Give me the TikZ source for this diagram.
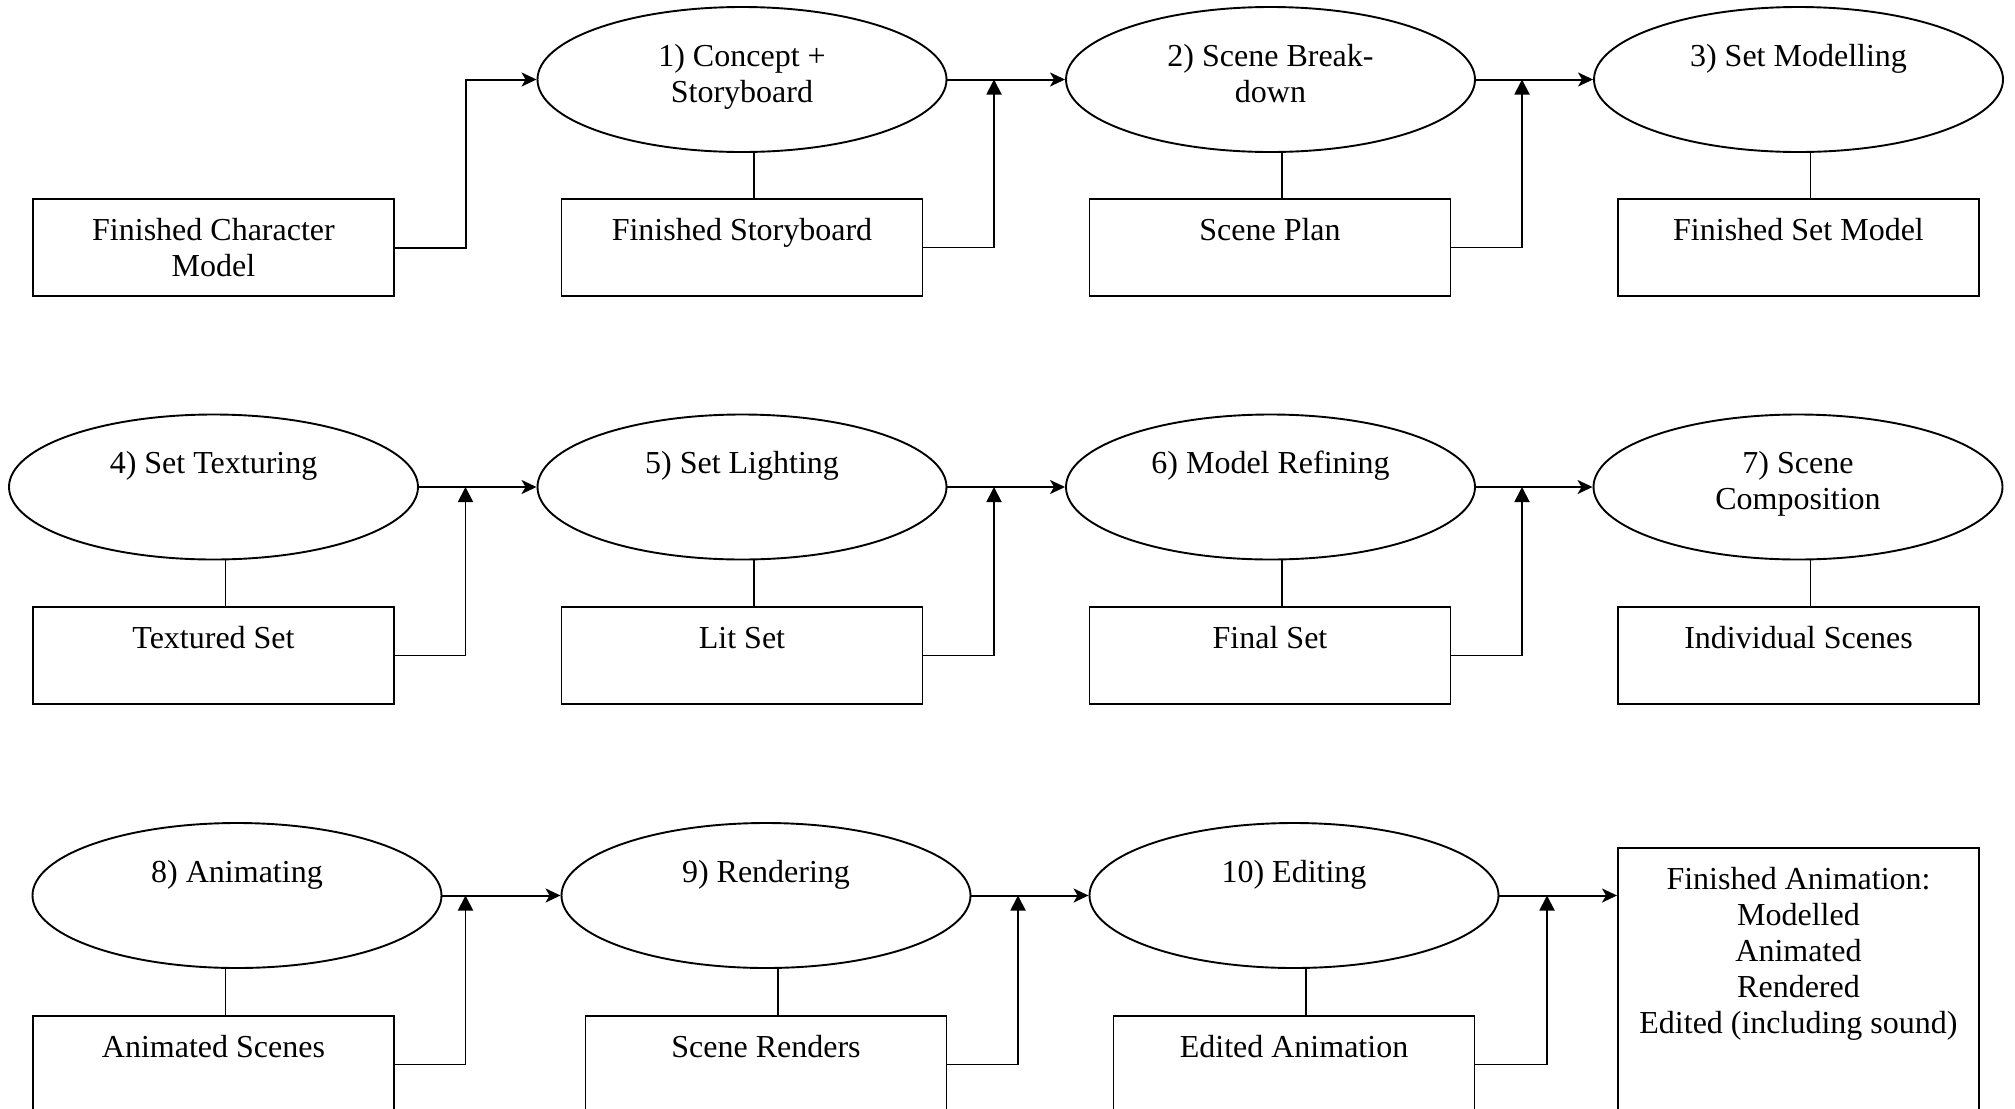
\documentclass[tikz,border=0pt]{standalone}
\usepackage{fontspec}
\setmainfont{Liberation Serif}
\usetikzlibrary{shapes.geometric,arrows.meta,calc}
\begin{document}
\begin{tikzpicture}[x=0.5pt,y=-0.5pt,
  outl/.style={draw, line width=0.95pt, inner sep=0pt},
  proc/.style={outl, ellipse, minimum width=204.5pt, minimum height=72.5pt},
  prod/.style={outl, rectangle, minimum width=180.5pt, minimum height=48.5pt},
  txt/.style={inner sep=0pt, align=center, anchor=north, font=\fontsize{16pt}{18pt}\selectfont},
  flow/.style={line width=1pt, -{Stealth[length=7.5pt,width=7pt,inset=2pt]}},
  feed/.style={line width=0.95pt, -{Triangle[length=7.5pt,width=7.5pt]}},
  link/.style={line width=0.8pt}]
\useasboundingbox (0,0) rectangle (2015,1109);
\clip (0,0) rectangle (2015,1109);

% ---------- row 1
\node[prod] (b0) at (213.5,247.5) {};
\node[proc] (e1) at (742,79.5) {};
\node[prod] (b1) at (742,247.5) {};
\node[proc] (e2) at (1270.5,79.5) {};
\node[prod] (b2) at (1270,247.5) {};
\node[proc] (e3) at (1798.5,79.5) {};
\node[prod] (b3) at (1798.5,247.5) {};

% ---------- row 2
\node[proc] (e4) at (213.5,487) {};
\node[prod] (b4) at (213.5,655.5) {};
\node[proc] (e5) at (742,487) {};
\node[prod] (b5) at (742,655.5) {};
\node[proc] (e6) at (1270.5,487) {};
\node[prod] (b6) at (1270,655.5) {};
\node[proc] (e7) at (1798,487) {};
\node[prod] (b7) at (1798.5,655.5) {};

% ---------- row 3
\node[proc] (e8) at (237,895.5) {};
\node[prod] (b8) at (213.5,1064.5) {};
\node[proc] (e9) at (766,895.5) {};
\node[prod] (b9) at (766,1064.5) {};
\node[proc] (e10) at (1294,895.5) {};
\node[prod] (b10) at (1294,1064.5) {};
\node[outl, rectangle, minimum width=180.5pt, minimum height=150pt, anchor=north] (fa) at (1798.5,847) {};

% ---------- texts
\node[txt] (t0) at ($(b0.north)+(0,16.8)$) {\strut Finished Character\\Model};
\node[txt] (te1) at ($(e1.north)+(0,34.8)$) {\strut 1) Concept +\\Storyboard};
\node[txt] (t1) at ($(b1.north)+(0,16.8)$) {\strut Finished Storyboard};
\node[txt] (te2) at ($(e2.north)+(0,34.8)$) {\strut 2) Scene Break-\\down};
\node[txt] (t2) at ($(b2.north)+(0,16.8)$) {\strut Scene Plan};
\node[txt] (te3) at ($(e3.north)+(0,34.8)$) {\strut 3) Set Modelling};
\node[txt] (t3) at ($(b3.north)+(0,16.8)$) {\strut Finished Set Model};

\node[txt] (te4) at ($(e4.north)+(0,34.8)$) {\strut 4) Set Texturing};
\node[txt] (t4) at ($(b4.north)+(0,16.8)$) {\strut Textured Set};
\node[txt] (te5) at ($(e5.north)+(0,34.8)$) {\strut 5) Set Lighting};
\node[txt] (t5) at ($(b5.north)+(0,16.8)$) {\strut Lit Set};
\node[txt] (te6) at ($(e6.north)+(0,34.8)$) {\strut 6) Model Refining};
\node[txt] (t6) at ($(b6.north)+(0,16.8)$) {\strut Final Set};
\node[txt] (te7) at ($(e7.north)+(0,34.8)$) {\strut 7) Scene\\Composition};
\node[txt] (t7) at ($(b7.north)+(0,16.8)$) {\strut Individual Scenes};

\node[txt] (te8) at ($(e8.north)+(0,34.8)$) {\strut 8) Animating};
\node[txt] (t8) at ($(b8.north)+(0,16.8)$) {\strut Animated Scenes};
\node[txt] (te9) at ($(e9.north)+(0,34.8)$) {\strut 9) Rendering};
\node[txt] (t9) at ($(b9.north)+(0,16.8)$) {\strut Scene Renders};
\node[txt] (te10) at ($(e10.north)+(0,34.8)$) {\strut 10) Editing};
\node[txt] (t10) at ($(b10.north)+(0,16.8)$) {\strut Edited Animation};
\node[txt] (tfa) at ($(fa.north)+(0,16.8)$) {\strut Finished Animation:\\Modelled\\Animated\\Rendered\\Edited (including sound)};

% ---------- links ellipse -> product
\foreach \e/\b in {e1/b1,e2/b2,e3/b3,e4/b4,e5/b5,e6/b6,e7/b7,e8/b8,e9/b9,e10/b10}
  \draw[link] ([xshift=6pt]\b.north) -- ([xshift=6pt]\b.north |- \e.south);

% ---------- flow arrows
\coordinate (k0) at (465.5,79.5);
\draw[flow] (b0.east) -| (k0) -- (e1.west);
\draw[flow] (e1.east) -- (e2.west);
\draw[flow] (e2.east) -- (e3.west);
\draw[flow] (e4.east) -- (e5.west);
\draw[flow] (e5.east) -- (e6.west);
\draw[flow] (e6.east) -- (e7.west);
\draw[flow] (e8.east) -- (e9.west);
\draw[flow] (e9.east) -- (e10.west);
\draw[flow] (e10.east) -- (e10.east -| fa.west);

% ---------- feedback arrows
\coordinate (k1) at (994,79.5);
\coordinate (k2) at (1522,79.5);
\coordinate (k4) at (465.5,487);
\coordinate (k5) at (994,487);
\coordinate (k6) at (1522,487);
\coordinate (k8) at (465.5,895.5);
\coordinate (k9) at (1018,895.5);
\coordinate (k10) at (1547,895.5);
\draw[feed] (b1.east) -| (k1);
\draw[feed] (b2.east) -| (k2);
\draw[feed] (b4.east) -| (k4);
\draw[feed] (b5.east) -| (k5);
\draw[feed] (b6.east) -| (k6);
\draw[feed] (b8.east) -| (k8);
\draw[feed] (b9.east) -| (k9);
\draw[feed] (b10.east) -| (k10);
\end{tikzpicture}
\end{document}
